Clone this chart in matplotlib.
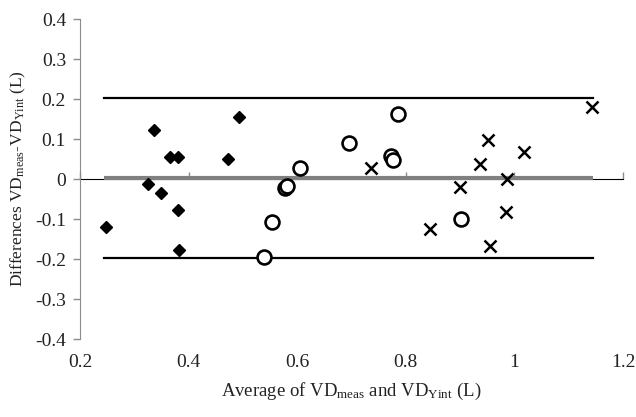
import matplotlib
matplotlib.use("Agg")
import matplotlib.pyplot as plt
import numpy as np

# ── Data ───────────────────────────────────────────────────────────────────────
diamond_x = [0.248, 0.325, 0.336, 0.350, 0.366, 0.381, 0.381, 0.382, 0.473, 0.493]
diamond_y = [-0.121, -0.012, 0.123, -0.034, 0.054, 0.054, -0.077, -0.177, 0.051, 0.155]

circle_x = [0.539, 0.553, 0.578, 0.581, 0.605, 0.696, 0.772, 0.777, 0.786, 0.902]
circle_y = [-0.196, -0.107, -0.022, -0.018, 0.028, 0.089, 0.057, 0.048, 0.163, -0.100]

cross_x = [0.735, 0.845, 0.900, 0.937, 0.952, 0.955, 0.984, 0.986, 1.018, 1.142]
cross_y = [0.027, -0.126, -0.019, 0.037, 0.098, -0.167, -0.083, -0.001, 0.067, 0.181]

mean_diff = 0.002
upper_loa = 0.203
lower_loa = -0.198

x_ticks = [0.2, 0.4, 0.6, 0.8, 1.0, 1.2]
x_tick_labels = ["0.2", "0.4", "0.6", "0.8", "1", "1.2"]
y_ticks = [-0.4, -0.3, -0.2, -0.1, 0.0, 0.1, 0.2, 0.3, 0.4]
y_tick_labels = ["-0.4", "-0.3", "-0.2", "-0.1", "0", "0.1", "0.2", "0.3", "0.4"]

# ── Style ──────────────────────────────────────────────────────────────────────
plt.rcParams["font.family"] = ["Liberation Serif", "DejaVu Serif"]
plt.rcParams["mathtext.fontset"] = "custom"
plt.rcParams["mathtext.rm"] = "Liberation Serif"
plt.rcParams["mathtext.it"] = "Liberation Serif:italic"
AXIS_GRAY = "#8c8c8c"
TEXT_COLOR = "#222222"

fig = plt.figure(figsize=(6.36, 4.17), dpi=100)
ax = fig.add_axes([80 / 636, 1 - 339 / 417, 543 / 636, 320 / 417])

all_x = np.concatenate([diamond_x, circle_x, cross_x])
x0, x1 = all_x.min() - 0.003, all_x.max() + 0.002

# mean and limits of agreement
ax.plot([x0, x1], [mean_diff, mean_diff], color="#808080", lw=3.0, zorder=2,
        solid_capstyle="butt")
ax.plot([x0, x1], [upper_loa, upper_loa], color="black", lw=1.6, zorder=2)
ax.plot([x0, x1], [lower_loa, lower_loa], color="black", lw=1.6, zorder=2)

ax.plot(diamond_x, diamond_y, "D", color="black", ms=6.3, ls="none", zorder=3)
ax.plot(circle_x, circle_y, "o", mfc="white", mec="black", mew=1.9, ms=10,
        ls="none", zorder=3)
ax.plot(cross_x, cross_y, "x", color="black", mew=1.8, ms=8.5, ls="none", zorder=3)

ax.set_xlim(0.2, 1.2)
ax.set_ylim(-0.4, 0.4)

# y axis
ax.set_yticks(y_ticks)
ax.set_yticklabels(y_tick_labels)
ax.tick_params(axis="y", direction="out", length=5, width=1, color=AXIS_GRAY,
               labelsize=14, labelcolor=TEXT_COLOR, pad=5)
ax.spines["left"].set_color(AXIS_GRAY)

# x labels at the bottom, axis line through zero
ax.set_xticks(x_ticks)
ax.set_xticklabels(x_tick_labels)
ax.tick_params(axis="x", length=0, labelsize=14, labelcolor=TEXT_COLOR, pad=11)
for side in ["top", "right", "bottom"]:
    ax.spines[side].set_visible(False)

zero_axis = ax.secondary_xaxis(0.5)
zero_axis.set_xticks(x_ticks)
zero_axis.set_xticklabels([])
zero_axis.tick_params(direction="out", length=5, width=1, color=AXIS_GRAY)
zero_axis.spines["bottom"].set_color(AXIS_GRAY)

ax.set_xlabel(r"Average of VD$_{\mathrm{meas}}$ and VD$_{\mathrm{Yint}}$ (L)",
              fontsize=13.5, color=TEXT_COLOR, labelpad=7)
ax.set_ylabel(r"Differences VD$_{\mathrm{meas}}$-VD$_{\mathrm{Yint}}$ (L)",
              fontsize=12.5, color=TEXT_COLOR, labelpad=5)

fig.savefig("out.png", dpi=100)
